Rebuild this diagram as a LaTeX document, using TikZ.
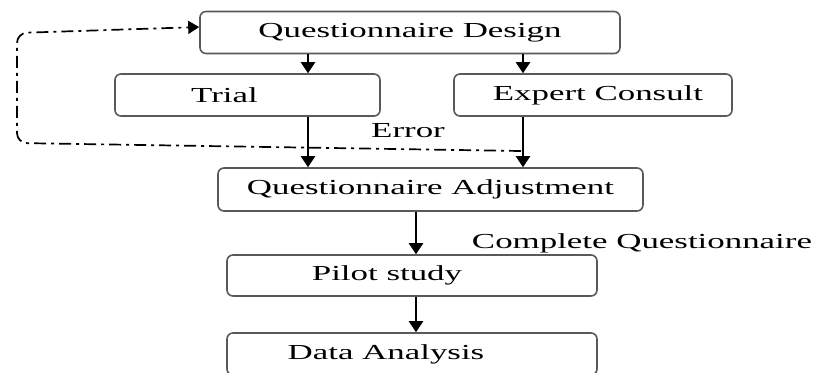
\documentclass[tikz,border=0pt]{standalone}
\usepackage{fontspec}
\setmainfont[FakeStretch=1.63]{Liberation Serif}
\usetikzlibrary{arrows.meta}

\tikzset{
	stage/.style={draw=black!65, line width=0.8pt, rounded corners=3pt, minimum height=21pt, inner sep=0pt, font=\fontsize{10.7}{12}\selectfont},
	flow/.style={line width=1.05pt, -{Triangle[width=7pt,length=5.5pt]}},
	loopback/.style={line width=0.85pt, dash pattern=on 6pt off 2.5pt on 1.5pt off 2.5pt, rounded corners=5pt, -{Triangle[width=6.5pt,length=5.5pt]}},
	note/.style={inner sep=0pt, font=\fontsize{10.7}{12}\selectfont}
}

\begin{document}
\begin{tikzpicture}[x=0.5pt,y=-0.5pt]
			\useasboundingbox (0,0) rectangle (814,372);
			\clip (0,0) rectangle (814,372);
			% stages
			\node[stage, minimum width=210pt](design) at (410,32.5){Questionnaire Design};
			\node[stage, minimum width=132.5pt](trial) at (247.5,95){Trial\hspace*{23pt}};
			\node[stage, minimum width=139pt](expert) at (593,95){\hspace*{5pt}Expert Consult};
			\node[stage, minimum width=212.5pt, minimum height=21.5pt](adjust) at (430.5,189.5){Questionnaire Adjustment};
			\node[stage, minimum width=185pt, minimum height=20.5pt](pilot) at (412,275.5){Pilot study\hspace*{25pt}};
			\node[stage, minimum width=185pt](data) at (412,354){Data Analysis\hspace*{26pt}};
			% arrow columns
			\coordinate (c1) at (308,0);
			\coordinate (c2) at (523,0);
			\coordinate (c3) at (416,0);
			\draw[flow] (design.south -| c1) -- (trial.north -| c1);
			\draw[flow] (design.south -| c2) -- (expert.north -| c2);
			\draw[flow] (trial.south -| c1) -- (adjust.north -| c1);
			\draw[flow] (expert.south -| c2) -- (adjust.north -| c2);
			\draw[flow] (adjust.south -| c3) -- (pilot.north -| c3);
			\draw[flow] (pilot.south -| c3) -- (data.north -| c3);
			% error loop
			\coordinate (errjoin) at (521,151);
			\draw[loopback] (errjoin) -- (17,143) -- (17,33) -- ([yshift=2.75pt]design.west);
			\node[note, anchor=base](error) at (408,137){Error};
			\node[note, anchor=base](complete) at (642,248){Complete Questionnaire};
\end{tikzpicture}
\end{document}
